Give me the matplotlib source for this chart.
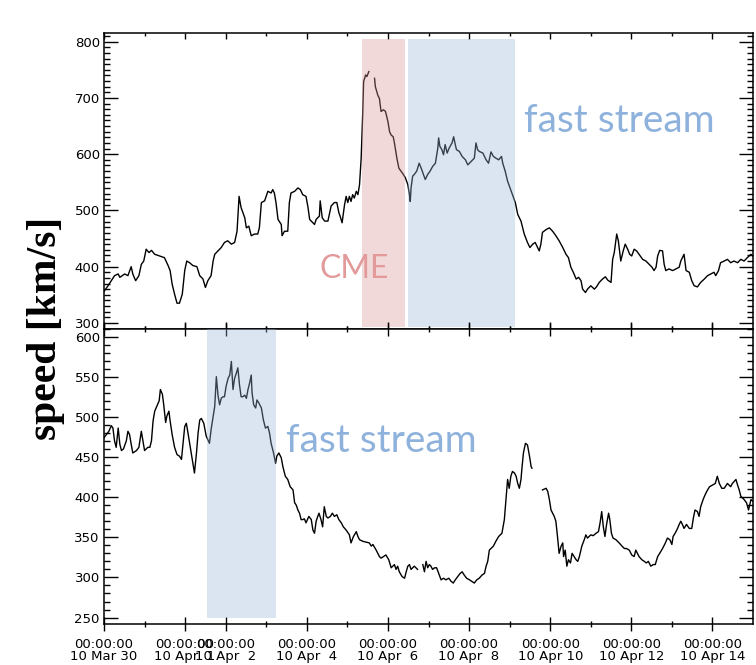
import matplotlib
matplotlib.use("Agg")
import matplotlib.pyplot as plt
from matplotlib.ticker import FixedLocator, MultipleLocator

nan = float("nan")

# time in days since 2010-03-30 00:00 UT ; speed in km/s
top_days = [0.00, 0.10, 0.18, 0.26, 0.35, 0.39, 0.51, 0.59, 0.67, 0.71, 0.78, 0.86, 0.92, 0.98,
            1.04, 1.11, 1.17, 1.25, 1.37, 1.49, 1.58, 1.63, 1.68, 1.74, 1.80, 1.86, 1.93, 1.99,
            2.04, 2.11, 2.19, 2.29, 2.36, 2.44, 2.50, 2.56, 2.64, 2.69, 2.73, 2.81, 2.89, 2.97,
            3.05, 3.14, 3.22, 3.28, 3.33, 3.38, 3.47, 3.51, 3.57, 3.63, 3.71, 3.79, 3.83, 3.88,
            3.96, 4.04, 4.12, 4.16, 4.20, 4.24, 4.29, 4.37, 4.39, 4.45, 4.53, 4.57, 4.61, 4.70,
            4.78, 4.84, 4.90, 4.98, 5.03, 5.07, 5.15, 5.19, 5.23, 5.31, 5.33, 5.38, 5.44, 5.52,
            5.60, 5.68, 5.74, 5.79, 5.82, 5.87, 5.93, 5.97, 6.01, 6.05, 6.09, 6.13, 6.17, 6.22,
            6.26, 6.30, 6.34, 6.38, 6.40, 6.45, 6.48, 6.53, 6.60, 6.67, 6.69, 6.75, 6.79, 6.83,
            6.89, 6.94, 7.00, 7.04, 7.08, 7.13, 7.16, 7.22, 7.27, 7.32, 7.38, 7.43, 7.49, 7.53,
            7.55, 7.57, 7.61, 7.65, 7.71, 7.77, 7.82, 7.86, 7.92, 7.98, 8.04, 8.10, 8.17, 8.23,
            8.25, 8.28, 8.33, 8.37, 8.41, 8.46, 8.51, 8.58, 8.62, 8.66, 8.69, 8.76, 8.83, 8.91,
            8.97, 9.05, 9.13, 9.17, 9.21, 9.25, 9.34, 9.42, 9.48, 9.54, 9.60, 9.66, 9.73, 9.80,
            9.83, 9.89, 9.95, 10.01, 10.07, 10.14, 10.20, 10.28, 10.36, 10.44, 10.50, 10.57,
            10.63, 10.69, 10.73, 10.77, 10.81, 10.90, 10.98, 11.06, 11.14, 11.22, 11.31, 11.39,
            11.45, 11.51, 11.57, 11.64, 11.70, 11.76, 11.80, 11.87, 11.92, 12.00, 12.09, 12.14,
            12.21, 12.29, 12.36, 12.42, 12.50, 12.54, 12.58, 12.64, 12.68, 12.74, 12.80, 12.85,
            12.91, 12.96, 13.01, 13.07, 13.13, 13.19, 13.28, 13.36, 13.44, 13.51, 13.56, 13.61,
            13.65, 13.70, 13.77, 13.81, 13.85, 13.93, 14.02, 14.10, 14.18, 14.22, 14.30, 14.35,
            14.43, 14.49, 14.55, 14.63, 14.71, 14.80, 14.88, 14.96, 15.04, 15.08, 15.15, 15.20,
            15.29, 15.37, 15.45, 15.53, 15.62, 15.70, 15.78, 15.86, 15.95, 15.99]
top_speed = [356, 366, 375, 384, 387, 381, 387, 384, 400, 387, 375, 384, 404, 410,
             431, 425, 429, 422, 419, 416, 402, 393, 369, 351, 335, 335, 351, 393,
             410, 407, 402, 400, 384, 378, 363, 375, 384, 410, 422, 428, 434, 443,
             446, 440, 443, 463, 525, 505, 487, 469, 472, 455, 458, 458, 469, 514,
             517, 534, 531, 537, 531, 514, 484, 475, 455, 463, 463, 514, 531, 534,
             540, 537, 528, 525, 505, 484, 478, 475, 484, 490, 517, 487, 481, 481,
             508, 514, 514, 496, 490, 478, 510, 525, 514, 525, 516, 528, 522, 534,
             528, 546, 593, 676, 729, 741, 738, 747, nan, 735, 720, 705, 699, 676,
             679, 676, 658, 640, 634, 631, 620, 593, 575, 570, 564, 558, 546, 528,
             516, 540, 561, 564, 570, 584, 575, 567, 555, 564, 570, 578, 584, 611,
             629, 614, 608, 599, 617, 602, 611, 620, 631, 617, 608, 605, 596, 590,
             581, 587, 593, 620, 608, 605, 602, 590, 584, 604, 596, 593, 590, 596,
             584, 570, 552, 540, 528, 514, 493, 481, 458, 443, 434, 440,
             443, 434, 428, 440, 461, 466, 469, 463, 455, 446, 434, 422,
             416, 399, 390, 378, 381, 375, 360, 354, 360, 366, 360, 364,
             372, 378, 382, 376, 372, 413, 425, 458, 446, 410, 428, 440,
             431, 422, 419, 431, 428, 422, 413, 410, 404, 399, 393, 399,
             419, 429, 428, 404, 393, 396, 393, 396, 399, 410, 422, 393,
             390, 375, 366, 364, 372, 378, 384, 387, 390, 384, 393, 407,
             410, 413, 407, 410, 407, 413, 410, 416, 422, 419]

bot_days = [0.00, 0.06, 0.12, 0.18, 0.22, 0.26, 0.30, 0.35, 0.39, 0.43, 0.48, 0.55, 0.59, 0.63,
            0.67, 0.71, 0.80, 0.86, 0.92, 0.96, 1.00, 1.08, 1.13, 1.17, 1.21, 1.25, 1.31, 1.36,
            1.39, 1.44, 1.47, 1.52, 1.55, 1.60, 1.63, 1.68, 1.74, 1.80, 1.86, 1.91, 1.99, 2.03,
            2.07, 2.15, 2.23, 2.28, 2.32, 2.36, 2.40, 2.46, 2.52, 2.60, 2.64, 2.69, 2.73, 2.77,
            2.81, 2.85, 2.89, 2.93, 2.97, 3.01, 3.06, 3.10, 3.14, 3.18, 3.22, 3.26, 3.30, 3.34,
            3.38, 3.42, 3.47, 3.51, 3.55, 3.59, 3.63, 3.65, 3.69, 3.74, 3.77, 3.82, 3.88, 3.93,
            3.98, 4.04, 4.08, 4.12, 4.18, 4.23, 4.26, 4.31, 4.37, 4.41, 4.47, 4.53, 4.59, 4.66,
            4.70, 4.74, 4.78, 4.82, 4.86, 4.90, 4.94, 4.98, 5.05, 5.11, 5.15, 5.19, 5.23, 5.27,
            5.30, 5.35, 5.39, 5.43, 5.48, 5.52, 5.58, 5.63, 5.68, 5.74, 5.79, 5.85, 5.90, 5.97,
            6.05, 6.09, 6.15, 6.22, 6.26, 6.30, 6.38, 6.46, 6.54, 6.59, 6.63, 6.71, 6.79, 6.83,
            6.89, 6.95, 7.02, 7.08, 7.16, 7.20, 7.24, 7.28, 7.35, 7.41, 7.45, 7.49, 7.53, 7.57,
            7.61, 7.65, 7.73, 7.80, 7.86, 7.90, 7.94, 7.98, 8.02, 8.06, 8.10, 8.15, 8.20, 8.25,
            8.31, 8.37, 8.43, 8.50, 8.56, 8.61, 8.66, 8.72, 8.78, 8.83, 8.88, 8.94, 9.01, 9.07,
            9.13, 9.19, 9.25, 9.32, 9.38, 9.42, 9.46, 9.50, 9.54, 9.60, 9.66, 9.73, 9.81, 9.87,
            9.91, 9.95, 9.99, 10.03, 10.07, 10.12, 10.16, 10.20, 10.24, 10.28, 10.30, 10.34,
            10.39, 10.44, 10.49, 10.53, 10.55, 10.68, 10.81, 10.90, 10.94, 10.98, 11.02, 11.06,
            11.10, 11.14, 11.18, 11.22, 11.27, 11.31, 11.33, 11.37, 11.41, 11.45, 11.50, 11.54,
            11.59, 11.64, 11.68, 11.72, 11.78, 11.84, 11.88, 11.92, 11.96, 12.00, 12.06, 12.13,
            12.19, 12.23, 12.27, 12.31, 12.35, 12.39, 12.44, 12.47, 12.51, 12.55, 12.62, 12.70,
            12.77, 12.83, 12.88, 12.95, 13.01, 13.07, 13.11, 13.15, 13.19, 13.26, 13.32, 13.37,
            13.42, 13.48, 13.54, 13.59, 13.65, 13.70, 13.77, 13.84, 13.89, 13.95, 14.00, 14.03,
            14.08, 14.14, 14.18, 14.22, 14.26, 14.30, 14.36, 14.43, 14.49, 14.53, 14.57, 14.63,
            14.67, 14.71, 14.77, 14.82, 14.88, 14.93, 15.00, 15.07, 15.12, 15.17, 15.23, 15.29,
            15.37, 15.41, 15.45, 15.49, 15.58, 15.62, 15.66, 15.70, 15.78, 15.84, 15.89, 15.95,
            15.99]
bot_speed = [474, 478, 482, 489, 486, 470, 462, 486, 466, 458, 460, 470, 482, 478,
             466, 455, 458, 462, 482, 470, 458, 462, 462, 470, 495, 507, 514, 520,
             534, 528, 516, 493, 501, 507, 495, 478, 462, 453, 451, 447, 488, 492,
             480, 455, 430, 455, 480, 496, 498, 492, 476, 467, 484, 500, 513, 550,
             527, 515, 523, 525, 525, 538, 548, 552, 569, 534, 548, 554, 561, 540,
             525, 525, 527, 523, 534, 542, 552, 530, 515, 511, 521, 517, 511, 496,
             486, 488, 480, 467, 455, 442, 451, 455, 449, 438, 426, 422, 413, 409,
             393, 390, 384, 380, 372, 372, 373, 368, 376, 372, 359, 355, 370, 376,
             380, 372, 363, 388, 376, 374, 376, 380, 376, 378, 372, 368, 363, 359,
             353, 343, 351, 357, 351, 347, 345, 344, 343, 339, 341, 334, 326, 324,
             326, 328, 322, 312, 316, 310, 314, 307, 301, 299, 307, 314, 316, 310,
             312, 314, 310, nan, 316, 307, 320, 312, 316, 314, 310, 312, 312, 305,
             297, 299, 297, 299, 295, 293, 297, 301, 305, 307, 303, 299, 297, 295,
             293, 297, 299, 303, 305, 314, 320, 334, 336, 339, 345, 351, 355, 372,
             397, 422, 411, 426, 432, 430, 426, 417, 411, 422, 434, 455,
             467, 465, 451, 438, 436, nan, 409, 411, 407, 397, 384, 380,
             376, 370, 351, 330, 339, 343, 326, 334, 314, 322, 318, 330,
             326, 322, 320, 326, 339, 347, 353, 349, 351, 353, 352, 355,
             357, 368, 382, 363, 351, 366, 380, 372, 355, 349, 347, 343,
             339, 336, 336, 334, 328, 326, 334, 330, 326, 322, 320, 318,
             320, 314, 316, 316, 326, 330, 336, 343, 349, 347, 341, 351,
             355, 361, 366, 370, 366, 361, 366, 361, 361, 374, 384, 382,
             376, 388, 397, 403, 409, 413, 415, 417, 426, 417, 411, 411,
             417, 415, 413, 417, 422, 415, 409, 401, 397, 393, 384, 397,
             395]

x_range = (0, 16)
major_days = [0, 2, 3, 5, 7, 9, 11, 13, 15]
minor_days = [1, 4, 6, 8, 10, 12, 14]
major_labels = ["00:00:00\n10 Mar 30", "00:00:00\n10 Apr  1", "00:00:00\n10 Apr  2",
                "00:00:00\n10 Apr  4", "00:00:00\n10 Apr  6", "00:00:00\n10 Apr  8",
                "00:00:00\n10 Apr 10", "00:00:00\n10 Apr 12", "00:00:00\n10 Apr 14"]

top_ylim = (290, 815)
bot_ylim = (242, 610)

# shaded intervals: (start day, end day, low speed, high speed)
cme_span = (6.37, 7.41, 292, 805)
fast_top_span = (7.50, 10.14, 292, 805)
fast_bot_span = (2.53, 4.23, 250, 610)

pink = (218 / 255, 146 / 255, 146 / 255)
blue = (152 / 255, 181 / 255, 215 / 255)
cme_text_color = "#e39a9a"
fast_text_color = "#8fb2dc"

plt.rcParams["font.family"] = ["DejaVu Sans"]

fig = plt.figure(figsize=(7.56, 6.65), dpi=100)
W, H = 756, 665
ax1 = fig.add_axes([104 / W, 1 - 328.5 / H, 649 / W, 295.2 / H])
ax2 = fig.add_axes([104 / W, 1 - 624 / H, 649 / W, 295.5 / H])

for ax, days, speed, ylim in ((ax1, top_days, top_speed, top_ylim),
                              (ax2, bot_days, bot_speed, bot_ylim)):
    ax.plot(days, speed, color="black", lw=1.0, zorder=2)
    ax.set_xlim(*x_range)
    ax.set_ylim(*ylim)
    for s in ax.spines.values():
        s.set_linewidth(1.1)
    ax.xaxis.set_major_locator(FixedLocator(major_days))
    ax.xaxis.set_minor_locator(FixedLocator(minor_days))
    ax.tick_params(axis="y", which="both", direction="in", left=True, right=True,
                   labelsize=9.5, pad=3, width=1.0)
    ax.tick_params(axis="y", which="major", length=10)
    ax.tick_params(axis="y", which="minor", length=4.5)

ax1.yaxis.set_major_locator(MultipleLocator(100))
ax1.yaxis.set_minor_locator(MultipleLocator(10))
ax2.yaxis.set_major_locator(MultipleLocator(50))
ax2.yaxis.set_minor_locator(MultipleLocator(10))

ax1.tick_params(axis="x", which="both", direction="in", top=True, bottom=True,
                labelbottom=False, width=1.0)
ax1.tick_params(axis="x", which="major", length=4.5)
ax1.tick_params(axis="x", which="minor", length=2.3)

ax2.tick_params(axis="x", which="both", direction="inout", top=True, bottom=True,
                labelsize=9.5, width=1.0, pad=5)
ax2.tick_params(axis="x", which="major", length=10)
ax2.tick_params(axis="x", which="minor", length=4)
ax2.set_xticklabels(major_labels)
for lab in ax2.get_xticklabels():
    lab.set_linespacing(0.9)

# shaded event intervals
for ax, (x0, x1, y0, y1), col in ((ax1, cme_span, pink), (ax1, fast_top_span, blue),
                                  (ax2, fast_bot_span, blue)):
    ax.fill_between([x0, x1], [y0, y0], [y1, y1], color=col, alpha=0.35, lw=0, zorder=3)

ax1.text(6.17, 379, "CME", color=cme_text_color, fontsize=23, family="Lato",
         ha="center", va="baseline", zorder=4)
ax1.text(12.71, 640, "fast stream", color=fast_text_color, fontsize=28, family="Lato",
         ha="center", va="baseline", zorder=4)
ax2.text(6.83, 456, "fast stream", color=fast_text_color, fontsize=28, family="Lato",
         ha="center", va="baseline", zorder=4)

fig.text(46 / W, 1 - 328 / H, "speed [km/s]", rotation=90, fontsize=30,
         fontweight="bold", family="Liberation Serif", ha="center", va="center")

fig.savefig("out.png", dpi=100)
